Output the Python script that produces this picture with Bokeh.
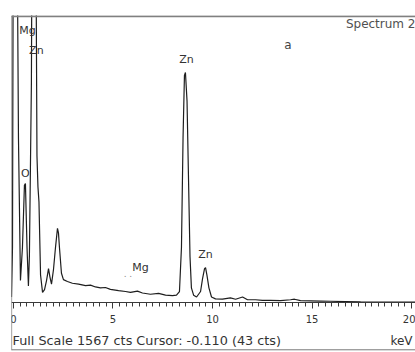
from bokeh.plotting import figure
from bokeh.models import LinearAxis, Span, Label, Range1d, SingleIntervalTicker
from bokeh.embed import file_html
from bokeh.resources import INLINE

# ---- data ----
energy_kev = [-0.10, -0.05, 0.00, 0.15, 0.25, 0.35, 0.45, 0.55, 0.60, 0.68,
              0.75, 0.80, 0.90, 0.95, 1.10, 1.18, 1.23, 1.28, 1.36, 1.46,
              1.56, 1.66, 1.76, 1.83, 1.91, 2.01, 2.11, 2.21, 2.26, 2.31,
              2.41, 2.51, 2.71, 2.96, 3.27, 3.62, 3.87, 4.12, 4.37, 4.62,
              4.87, 5.28, 5.63, 5.88, 6.23, 6.48, 6.88, 7.29, 7.64, 7.99,
              8.19, 8.34, 8.44, 8.52, 8.59, 8.64, 8.72, 8.79, 8.87, 8.94,
              9.05, 9.20, 9.40, 9.50, 9.60, 9.65, 9.72, 9.82, 9.95, 10.15,
              10.50, 10.90, 11.16, 11.51, 11.76, 12.16, 12.51, 12.91, 13.42, 13.92,
              14.12, 14.42, 14.92, 15.43, 15.93, 16.68, 17.44, 18.44, 19.45, 20.20]
counts = [30, 300, 2600, 2600, 900, 120, 300, 640, 650, 300,
          90, 257, 1200, 2600, 2600, 800, 630, 550, 150, 55,
          70, 120, 185, 140, 100, 180, 300, 405, 380, 300,
          160, 125, 115, 105, 100, 92, 95, 85, 80, 82,
          72, 65, 60, 55, 62, 52, 45, 50, 40, 38,
          40, 60, 300, 900, 1240, 1256, 1100, 700, 250, 80,
          40, 30, 60, 130, 185, 190, 150, 80, 30, 20,
          18, 25, 18, 30, 15, 15, 12, 12, 10, 15,
          18, 10, 9, 8, 7, 5, 3, 2, 2, 2]

full_scale_cts = 1567
cursor_kev = -0.110
cursor_cts = 43
spectrum_name = "Spectrum 2"
panel_tag = "a"

peak_names = ["Mg", "Zn", "O", "Zn", "Zn", "Mg"]
peak_kev = [0.70, 1.15, 0.60, 8.69, 9.65, 6.38]
peak_cts = [1452, 1343, 670, 1294, 229, 158]

# ---- figure ----
p = figure(width=415, height=352,
           x_range=Range1d(-0.1, 20.2), y_range=Range1d(-262, full_scale_cts),
           output_backend="svg", toolbar_location=None,
           x_axis_location=None, y_axis_location=None,
           min_border_left=11, min_border_right=0, min_border_top=15, min_border_bottom=2)
p.grid.visible = False
p.outline_line_color = None
p.background_fill_color = "white"
p.border_fill_color = "white"

p.line(energy_kev, counts, line_color="#1e1e1e", line_width=1.2)

font = "DejaVu Sans"

axis = LinearAxis(fixed_location=0,
                  ticker=SingleIntervalTicker(interval=5, num_minor_ticks=15))
axis.axis_line_color = "#3a3a3a"
axis.major_tick_line_color = "#3a3a3a"
axis.minor_tick_line_color = "#3a3a3a"
axis.major_tick_in = 0
axis.major_tick_out = 6
axis.minor_tick_in = 0
axis.minor_tick_out = 4
axis.major_label_standoff = 6
axis.major_label_text_font = font
axis.major_label_text_font_size = "10px"
axis.major_label_text_color = "#333333"
p.add_layout(axis, "below")

# frame lines
p.add_layout(Span(location=full_scale_cts - 4, dimension="width", line_color="#808080", line_width=2))
p.add_layout(Span(location=-0.095, dimension="height", line_color="#555555", line_width=1))
p.add_layout(Span(location=-259, dimension="width", line_color="#555555", line_width=1))

for name, ek, ct in zip(peak_names, peak_kev, peak_cts):
    p.add_layout(Label(x=ek, y=ct, text=name, text_align="center", text_baseline="bottom",
                       text_font=font, text_font_size="11px", text_color="#333333"))

p.add_layout(Label(x=5.75, y=128, text=". .", text_align="center", text_baseline="bottom",
                   text_font=font, text_font_size="9px", text_color="#888888"))
p.add_layout(Label(x=20.2, y=1485, text=spectrum_name, text_align="right", text_baseline="bottom",
                   text_font=font, text_font_size="12px", text_color="#505050"))
p.add_layout(Label(x=13.79, y=1370, text=panel_tag, text_align="center", text_baseline="bottom",
                   text_font=font, text_font_size="12px", text_color="#444444"))
p.add_layout(Label(x=-0.05, y=-246,
                   text="Full Scale %d cts Cursor: %.3f  (%d cts)" % (full_scale_cts, cursor_kev, cursor_cts),
                   text_align="left", text_baseline="bottom",
                   text_font=font, text_font_size="12.8px", text_color="#333333"))
p.add_layout(Label(x=20.05, y=-246, text="keV", text_align="right", text_baseline="bottom",
                   text_font=font, text_font_size="12px", text_color="#333333"))

open("out.html", "w").write(file_html(p, INLINE))
